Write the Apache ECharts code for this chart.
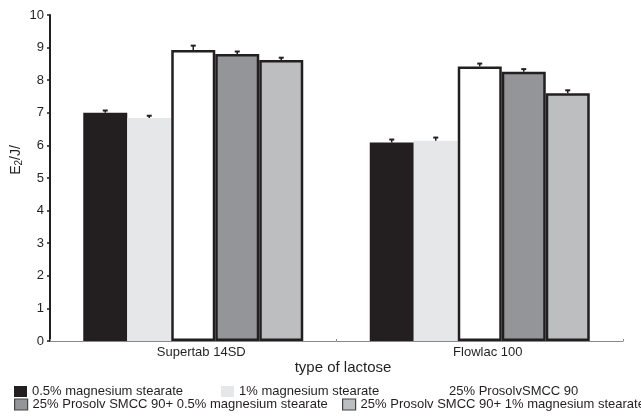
<html>
    <head>
        <meta charset="utf-8">
        <script src="https://cdn.jsdelivr.net/npm/echarts@6/dist/echarts.min.js"></script>
        <style>
            html, body { margin: 0; padding: 0; background: #fff; }
            #main { width: 641px; height: 418px; }
        </style>
    </head>
    <body>
        <div id="main"></div>
        <script>
            // data
            var categories = ['Supertab 14SD', 'Flowlac 100'];
            var seriesNames = [
                '0.5% magnesium stearate',
                '1% magnesium stearate',
                '25% ProsolvSMCC 90',
                '25% Prosolv SMCC 90+ 0.5% magnesium stearate',
                '25% Prosolv SMCC 90+ 1% magnesium stearate'
            ];
            var ms05 = [7.0, 6.09];
            var ms1 = [6.84, 6.14];
            var prosolv = [8.93, 8.42];
            var prosolvMs05 = [8.8, 8.26];
            var prosolvMs1 = [8.62, 7.6];
            var errMs05 = [0.07, 0.09];
            var errMs1 = [0.07, 0.1];
            var errProsolv = [0.13, 0.09];
            var errProsolvMs05 = [0.08, 0.08];
            var errProsolvMs1 = [0.07, 0.09];

            var values = [ms05, ms1, prosolv, prosolvMs05, prosolvMs1];
            var errors = [errMs05, errMs1, errProsolv, errProsolvMs05, errProsolvMs1];
            var fills = ['#231f20', '#e6e7e8', '#ffffff', '#939598', '#bcbec0'];
            var borders = [0, 0, 2.5, 2.5, 2.5];

            var BAR_W = 44;
            var INK = '#231f20';
            var FONT = 'Liberation Sans, Arial, sans-serif';

            var series = [];
            values.forEach(function (vals, k) {
                series.push({
                    name: seriesNames[k],
                    type: 'bar',
                    barWidth: BAR_W,
                    barGap: '0%',
                    data: vals,
                    itemStyle: {
                        color: fills[k],
                        borderColor: INK,
                        borderWidth: borders[k]
                    },
                    z: 2
                });
            });
            // error bars (only the upper whisker is visible)
            values.forEach(function (vals, k) {
                series.push({
                    type: 'custom',
                    name: 'err' + k,
                    encode: { x: 0, y: 1 },
                    z: 3,
                    data: vals.map(function (v, i) { return [i, v, errors[k][i]]; }),
                    renderItem: function (params, api) {
                        var i = api.value(0);
                        var v = api.value(1);
                        var e = api.value(2);
                        var base = api.coord([i, v]);
                        var top = api.coord([i, v + e]);
                        var cx = base[0] + (k - 2) * BAR_W;
                        var st = { stroke: INK, lineWidth: 1.5 };
                        return {
                            type: 'group',
                            children: [
                                { type: 'line', shape: { x1: cx, y1: base[1], x2: cx, y2: top[1] }, style: st },
                                { type: 'line', shape: { x1: cx - 2.5, y1: top[1], x2: cx + 2.5, y2: top[1] }, style: { stroke: INK, lineWidth: 2 } }
                            ]
                        };
                    }
                });
            });

            function legendAt(k, left, top, extra) {
                var item = {
                    data: [seriesNames[k]],
                    left: left,
                    top: top,
                    padding: 0,
                    icon: 'rect',
                    itemWidth: 13,
                    itemHeight: 11,
                    selectedMode: false,
                    textStyle: { fontSize: 13, color: INK, fontFamily: FONT },
                    itemStyle: extra
                };
                return item;
            }

            var chart = echarts.init(document.getElementById('main'));
            chart.setOption({
                animation: false,
                grid: { left: 50, right: 18, top: 15, bottom: 77, containLabel: false, outerBoundsMode: 'none' },
                legend: [
                    legendAt(0, 14, 385, { borderWidth: 0 }),
                    legendAt(1, 221, 385, { borderWidth: 0 }),
                    legendAt(2, 431, 385, { borderWidth: 0 }),
                    legendAt(3, 14, 398, { borderWidth: 1.2, borderColor: '#444' }),
                    legendAt(4, 342, 398, { borderWidth: 1.2, borderColor: '#444' })
                ],
                xAxis: {
                    type: 'category',
                    data: categories,
                    name: 'type of lactose',
                    nameLocation: 'middle',
                    nameGap: 19,
                    nameMoveOverlap: false,
                    nameTextStyle: { fontSize: 15, color: INK, fontFamily: FONT, padding: [0, 0, 0, 13] },
                    axisLine: { lineStyle: { color: '#888', width: 1 } },
                    axisTick: { show: true, inside: true, length: 2, lineStyle: { color: '#888' } },
                    axisLabel: { fontSize: 13, color: INK, fontFamily: FONT, margin: 5, padding: [0, 0, 0, 16] }
                },
                yAxis: {
                    type: 'value',
                    min: 0,
                    max: 10,
                    interval: 1,
                    name: '{a|E}{b|2}{a|/J/}',
                    nameLocation: 'middle',
                    nameGap: 26,
                    nameRotate: 90,
                    nameMoveOverlap: false,
                    nameTextStyle: {
                        color: INK,
                        fontFamily: FONT,
                        padding: [0, 0, 0, 36],
                        rich: {
                            a: { fontSize: 14, color: INK, fontFamily: FONT },
                            b: { fontSize: 10, color: INK, fontFamily: FONT, padding: [6, 0, 0, 0] }
                        }
                    },
                    splitLine: { show: false },
                    axisLine: { show: true, lineStyle: { color: INK, width: 2 } },
                    axisTick: { show: true, length: 3, lineStyle: { color: INK, width: 1.5 } },
                    axisLabel: { fontSize: 13, color: INK, fontFamily: FONT, margin: 6 }
                },
                series: series
            });
        </script>
    </body>
</html>
